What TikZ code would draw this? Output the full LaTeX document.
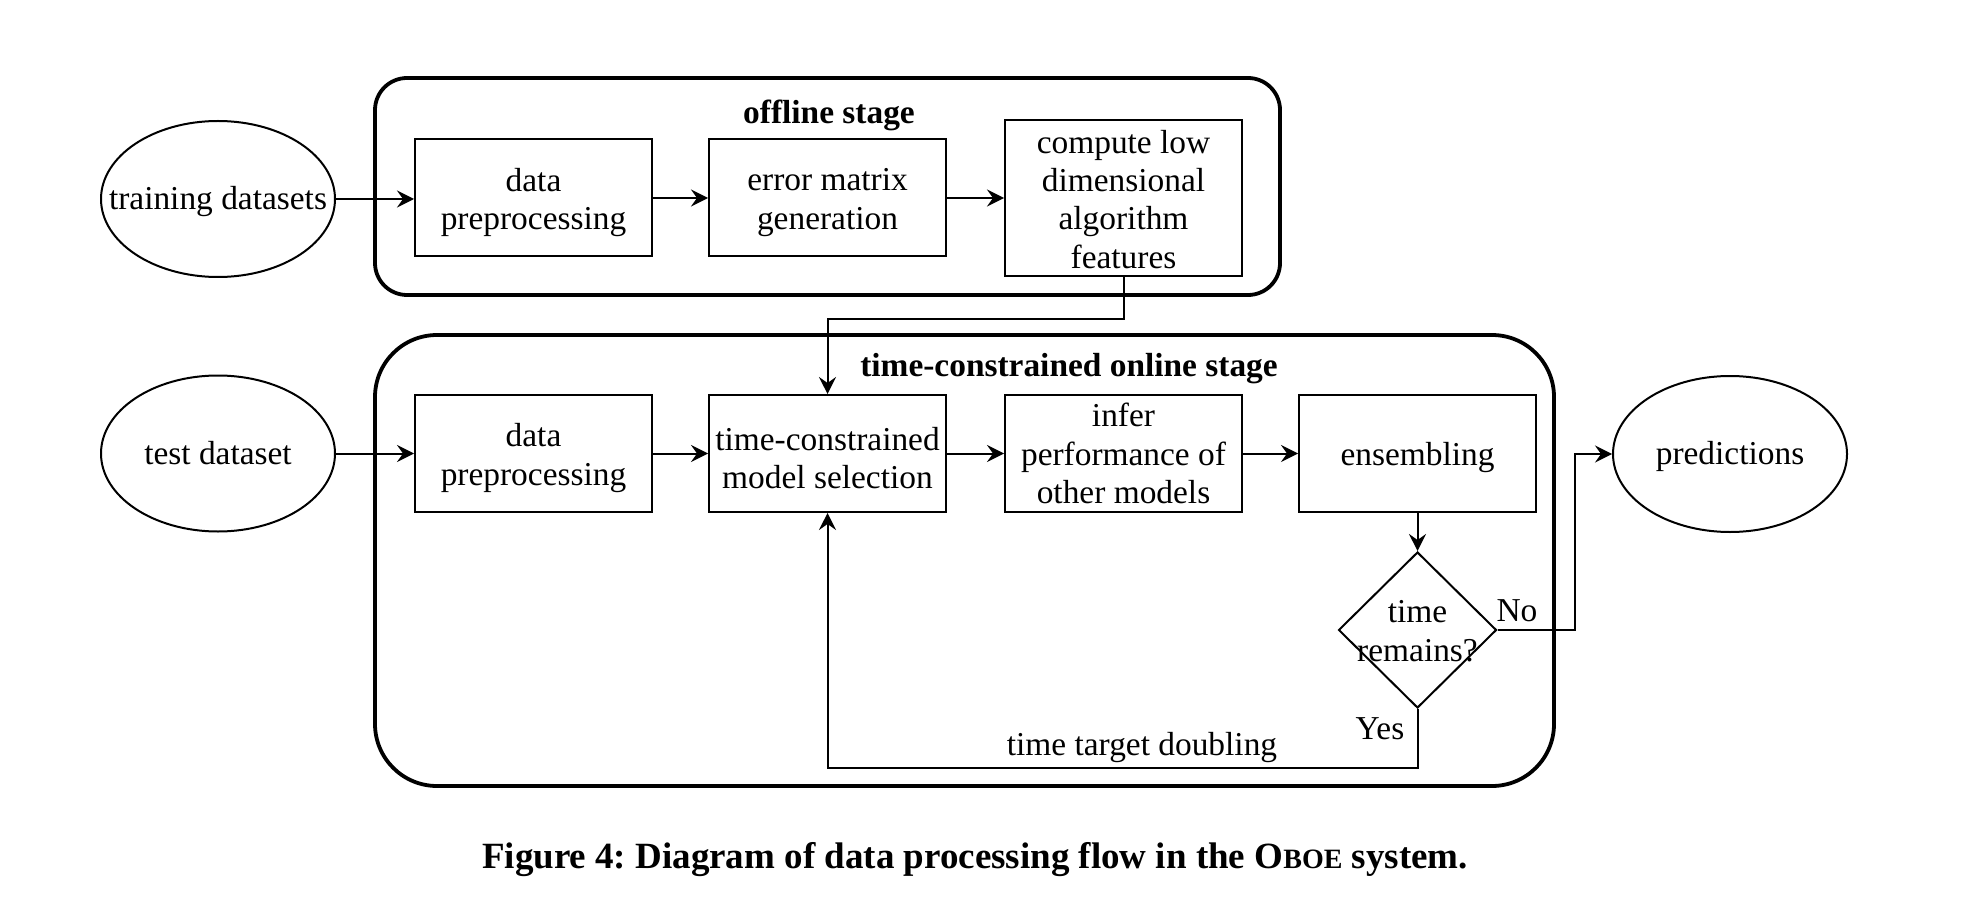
\documentclass[tikz,border=0pt]{standalone}
\usepackage{fontspec}
\setmainfont{Liberation Serif}
\usetikzlibrary{shapes.geometric,arrows.meta}
\frenchspacing
\begin{document}
\begin{tikzpicture}[x=0.5pt,y=-0.5pt,
  txt/.style={font=\fontsize{16.7pt}{19.2pt}\selectfont, align=center, inner sep=0pt},
  boldtxt/.style={font=\bfseries\fontsize{16.7pt}{19.2pt}\selectfont, inner sep=0pt},
  box/.style={draw, line width=1pt, minimum width=118.5pt, minimum height=58.5pt, inner sep=0pt},
  inbox/.style={label={[txt, yshift=-2.2pt]center:#1}},
  oval/.style={draw, ellipse, line width=1pt, minimum width=117pt, minimum height=78pt, inner sep=0pt},
  stage/.style={draw, line width=1.9pt, inner sep=0pt},
  conn/.style={line width=1pt},
  arr/.style={conn, -{Stealth[length=8.5pt,width=8.5pt,inset=3pt]}},
  ]
\useasboundingbox (0,0) rectangle (1984,914);
% stage frames
\node[stage, rounded corners=16pt, minimum width=452.5pt, minimum height=108.5pt] (offline) at (827.5,186.5) {};
\node[stage, rounded corners=31pt, minimum width=589.5pt, minimum height=225.5pt] (online) at (964.5,560.5) {};
\node[boldtxt] (offt) at (829,115) {offline stage};
\node[boldtxt] (onlt) at (1069,369) {time-constrained online stage};
% offline row
\node[oval, label={[txt, yshift=-1.5pt]center:training datasets}] (train) at (218,199) {};
\node[box, inbox={data\\preprocessing}] (pre1) at (533.5,198) {};
\node[box, inbox={error matrix\\generation}] (err) at (827.5,198) {};
\node[box, minimum height=78pt, label={[txt, yshift=-0.6pt]center:compute low\\dimensional\\algorithm\\features}] (feat) at (1123.5,198) {};
% online row
\node[oval, label={[txt]center:test dataset}] (test) at (218,453.5) {};
\node[box, inbox={data\\preprocessing}] (pre2) at (533.5,453.5) {};
\node[box, inbox={time-constrained\\model selection}] (sel) at (827.5,453.5) {};
\node[box, label={[txt]center:infer\\performance of\\other models}] (inf) at (1123.5,453.5) {};
\node[box, inbox={ensembling}] (ens) at (1417.5,453.5) {};
\node[draw, diamond, minimum width=79pt, minimum height=78pt, inner sep=0pt, line width=1pt] (dec) at (1417.5,630) {};
\node[txt] (dectxt) at (1417.5,631) {time\\remains?};
\node[oval, label={[txt, yshift=-1pt]center:predictions}] (pred) at (1730,454) {};
% connectors
\draw[arr] (train.east) -- (train.east -| pre1.west);
\draw[arr] (pre1.east) -- (err.west);
\draw[arr] (err.east) -- (err.east -| feat.west);
\draw[arr] (test.east) -- (pre2.west);
\draw[arr] (pre2.east) -- (sel.west);
\draw[arr] (sel.east) -- (inf.west);
\draw[arr] (inf.east) -- (ens.west);
\draw[arr] (ens.south) -- (dec.north);
\coordinate (k1) at (1124,319);
\draw[arr] (feat.south) -- (feat.south |- k1) -| (sel.north);
\coordinate (k2) at (0,768);
\draw[arr] (dec.south) -- (dec.south |- k2) -| (sel.south);
\coordinate (k3) at (1575,0);
\draw[arr] (dec.east) -- (dec.east -| k3) |- (pred.west);
% labels
\node[txt] (nolab) at (1517,611) {No};
\node[txt] (yeslab) at (1380,729) {Yes};
\node[txt] (dbl) at (1142,748) {time target doubling};
% caption
\node[font=\bfseries\fontsize{18.5pt}{21pt}\selectfont, inner sep=0pt] (cap) at (975,860) {Figure 4: Diagram of data processing flow in the O{\fontsize{14pt}{16pt}\selectfont BOE} system.};
\end{tikzpicture}
\end{document}
